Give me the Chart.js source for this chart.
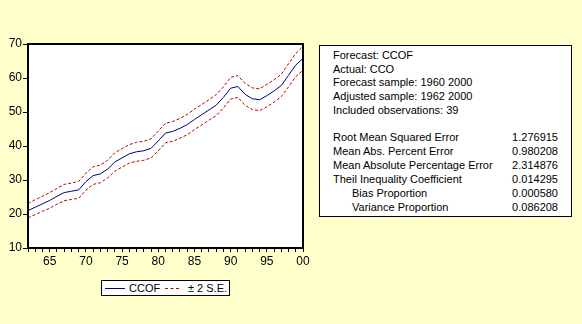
<!DOCTYPE html>
<html>
<head>
<meta charset="utf-8">
<script src="https://cdn.jsdelivr.net/npm/chart.js@4"></script>
<style>
  body { margin: 0; background: #ffffcc; font-family: "Liberation Sans", Arial, sans-serif; }
  #wrap { position: relative; width: 582px; height: 324px; overflow: hidden; }
  #chart { position: absolute; left: 0; top: 0; }
  .stats { position: absolute; left: 319px; top: 45px; width: 251px; height: 170px;
           border: 1px solid #000; background: #fff; }
  .row { position: absolute; font-size: 11px; line-height: 14px; color: #000; white-space: nowrap; }
  .legend { position: absolute; left: 101px; top: 280px; width: 127px; height: 14px;
            border: 1px solid #000; background: #fff; font-size: 11px; line-height: 14px; }
  .legend span { position: absolute; top: 0; }
  .legend i { position: absolute; top: 7px; height: 0; }
</style>
</head>
<body>
<div id="wrap">
  <canvas id="chart" width="582" height="324"></canvas>
  <div class="stats" id="stats"></div>
  <div class="legend">
    <i style="left:3px;width:20px;border-top:1px solid #000080"></i>
    <span style="left:27px">CCOF</span>
    <i style="left:63px;width:14px;border-top:1px dashed #c00000"></i>
    <span style="left:86px">± 2 S.E.</span>
  </div>
</div>
<script>
// ---- data ----
const years = [1962,1963,1964,1965,1966,1967,1968,1969,1970,1971,1972,1973,1974,1975,1976,1977,1978,1979,1980,
  1981,1982,1983,1984,1985,1986,1987,1988,1989,1990,1991,1992,1993,1994,1995,1996,1997,1998,1999,2000];
const ccof = [21.0,22.0,23.0,24.0,25.2,26.3,26.7,27.1,29.5,31.3,31.8,33.2,35.3,36.5,37.7,38.3,38.6,39.3,41.5,
  43.8,44.3,45.2,46.3,47.8,49.2,50.6,52.0,54.3,57.0,57.5,55.2,53.9,53.6,54.8,56.2,57.8,60.8,63.8,65.8];
const upperSE = [23.1,24.2,25.2,26.3,27.5,28.7,29.1,29.6,32.0,33.9,34.4,35.8,38.0,39.2,40.4,41.1,41.4,42.1,44.4,
  46.7,47.2,48.1,49.3,50.8,52.2,53.6,55.1,57.4,60.2,60.7,58.4,57.1,56.8,58.1,59.5,61.1,64.2,67.2,69.3];
const lowerSE = [18.9,19.8,20.8,21.7,22.9,23.9,24.3,24.6,27.0,28.7,29.2,30.6,32.6,33.8,35.0,35.5,35.8,36.5,38.6,
  40.9,41.4,42.3,43.3,44.8,46.2,47.6,48.9,51.2,53.8,54.3,52.0,50.7,50.4,51.5,52.9,54.5,57.4,60.4,62.3];
const yTicks = [10, 20, 30, 40, 50, 60, 70];

const infoLines = ["Forecast: CCOF", "Actual: CCO", "Forecast sample: 1960 2000",
  "Adjusted sample: 1962 2000", "Included observations: 39"];
const statNames = ["Root Mean Squared Error", "Mean Abs. Percent Error", "Mean Absolute Percentage Error",
  "Theil Inequality Coefficient", "Bias Proportion", "Variance Proportion"];
const statValues = ["1.276915", "0.980208", "2.314876", "0.014295", "0.000580", "0.086208"];
const statIndent = [false, false, false, false, true, true];

// ---- stats box ----
const box = document.getElementById("stats");
infoLines.forEach((t, i) => {
  const d = document.createElement("div");
  d.className = "row";
  d.style.left = "13px";
  d.style.top = (2 + i * 13.7) + "px";
  d.textContent = t;
  box.appendChild(d);
});
statNames.forEach((t, i) => {
  const top = (84 + i * 13.9) + "px";
  const n = document.createElement("div");
  n.className = "row";
  n.style.left = (statIndent[i] ? 32 : 13) + "px";
  n.style.top = top;
  n.textContent = t;
  box.appendChild(n);
  const v = document.createElement("div");
  v.className = "row";
  v.style.right = "13px";
  v.style.top = top;
  v.textContent = statValues[i];
  box.appendChild(v);
});

// ---- chart ----
const pts = arr => years.map((y, i) => ({ x: y, y: arr[i] }));

const plotBg = {
  id: "plotBg",
  beforeDraw(chart) {
    const { ctx, chartArea: a } = chart;
    ctx.save();
    ctx.fillStyle = "#ffffff";
    ctx.fillRect(a.left, a.top, a.right - a.left, a.bottom - a.top);
    ctx.restore();
  },
  afterDraw(chart) {
    const { ctx, chartArea: a } = chart;
    ctx.save();
    ctx.strokeStyle = "#000";
    ctx.lineWidth = 2;
    ctx.strokeRect(a.left, a.top, a.right - a.left, a.bottom - a.top);
    ctx.restore();
  }
};

new Chart(document.getElementById("chart"), {
  type: "line",
  data: {
    datasets: [
      { data: pts(upperSE), borderColor: "#c00000", borderWidth: 1, borderDash: [3, 2] },
      { data: pts(ccof), borderColor: "#000080", borderWidth: 1 },
      { data: pts(lowerSE), borderColor: "#c00000", borderWidth: 1, borderDash: [3, 2] }
    ]
  },
  options: {
    responsive: false,
    animation: false,
    layout: { padding: { left: 0, top: 44, right: 279, bottom: 0 } },
    elements: { point: { radius: 0 }, line: { tension: 0 } },
    plugins: { legend: { display: false }, tooltip: { enabled: false } },
    scales: {
      x: {
        type: "linear",
        min: 1962,
        max: 2000,
        afterBuildTicks: s => { s.ticks = years.map(v => ({ value: v })); },
        afterFit: s => { s.height = 76; },
        grid: { drawOnChartArea: false, color: "#000", tickLength: 4 },
        border: { display: false },
        ticks: {
          autoSkip: false, maxRotation: 0, padding: 2, color: "#000",
          font: { family: "Liberation Sans", size: 12 },
          callback: v => (v % 5 === 0 ? String(v % 100).padStart(2, "0") : "")
        }
      },
      y: {
        min: 10,
        max: 70,
        afterBuildTicks: s => { s.ticks = yTicks.map(v => ({ value: v })); },
        afterFit: s => { s.width = 28; },
        grid: { drawOnChartArea: false, color: "#000", tickLength: 5 },
        border: { display: false },
        ticks: { padding: 1, color: "#000", font: { family: "Liberation Sans", size: 12 } }
      }
    }
  },
  plugins: [plotBg]
});
</script>
</body>
</html>
